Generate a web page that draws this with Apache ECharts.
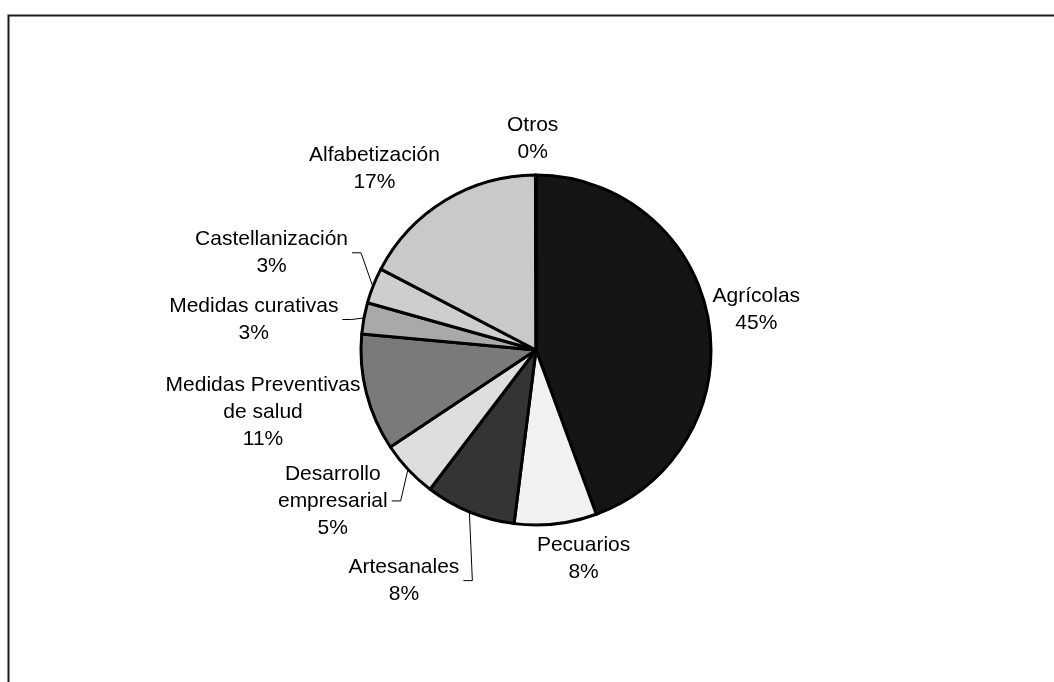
<!DOCTYPE html>
<html>
<head>
<meta charset="utf-8">
<script src="https://cdn.jsdelivr.net/npm/echarts@6/dist/echarts.min.js"></script>
<style>
  html, body { margin: 0; padding: 0; background: #ffffff; }
  #chart { width: 1054px; height: 682px; }
</style>
</head>
<body>
<div id="chart"></div>
<script>
// ---- data (clockwise from 12 o'clock) ----
const categories = ['Agrícolas', 'Pecuarios', 'Artesanales', 'Desarrollo empresarial',
  'Medidas Preventivas de salud', 'Medidas curativas', 'Castellanización', 'Alfabetización', 'Otros'];
const labelTexts = ['Agrícolas', 'Pecuarios', 'Artesanales', 'Desarrollo\nempresarial',
  'Medidas Preventivas\nde salud', 'Medidas curativas', 'Castellanización', 'Alfabetización', 'Otros'];
const values = [44.4, 7.6, 8.35, 5.3, 10.8, 2.9, 3.3, 17.3, 0.05];

// ---- styling ----
const fills = ['#151515', '#f1f1f1', '#343434', '#dedede', '#7a7a7a', '#a9a9a9', '#cecece', '#c9c9c9', '#ffffff'];
const hasLeader = [false, false, true, true, false, true, true, false, false];
const nudges = [[0, -4], [22, 3], [-43, 39], [-32, 0], [-4, 8], [-22, 7], [-26, -21], [-34, -4], [-3, -4]];

const CX = 536, CY = 350, R = 175;
const total = values.reduce((a, b) => a + b, 0);
const midAngles = [];
(function () {
  let acc = 0;
  for (let i = 0; i < values.length; i++) {
    midAngles.push(((acc + values[i] / 2) / total) * 2 * Math.PI);
    acc += values[i];
  }
})();

const chart = echarts.init(document.getElementById('chart'), null, { renderer: 'canvas' });

const seriesData = categories.map((name, i) => ({
  name: name,
  value: values[i],
  itemStyle: { color: fills[i] },
  labelLine: { show: hasLeader[i] }
}));

chart.setOption({
  animation: false,
  backgroundColor: '#ffffff',
  graphic: [{
    type: 'rect',
    left: 6, top: 13,
    shape: { width: 1100, height: 720 },
    style: { fill: 'none', stroke: '#1a1a1a', lineWidth: 2 },
    silent: true
  }],
  series: [{
    type: 'pie',
    center: [CX, CY],
    radius: R,
    startAngle: 90,
    clockwise: true,
    avoidLabelOverlap: false,
    percentPrecision: 0,
    itemStyle: { borderColor: '#000000', borderWidth: 3 },
    emphasis: { disabled: true },
    label: {
      show: true,
      position: 'outside',
      color: '#000000',
      fontFamily: '"Liberation Sans", Arial, sans-serif',
      fontSize: 21,
      lineHeight: 27,
      formatter: function (p) { return labelTexts[p.dataIndex] + '\n' + p.percent + '%'; }
    },
    labelLine: { show: true, length: 10, length2: 10, smooth: false,
      lineStyle: { color: '#000000', width: 1 } },
    labelLayout: function (params) {
      const i = params.dataIndex;
      const a = midAngles[i];
      const ux = Math.sin(a), uy = -Math.cos(a);
      const w = params.labelRect.width, h = params.labelRect.height;
      const gap = 5;
      const x = CX + ux * (R + gap) + ux * w / 2 + nudges[i][0];
      const y = CY + uy * (R + gap) + uy * h / 2 + nudges[i][1];
      const out = { x: x, y: y, align: 'center', verticalAlign: 'middle' };
      if (hasLeader[i]) {
        const ex = CX + ux * (R + 1), ey = CY + uy * (R + 1);
        const right = x + w / 2;
        out.labelLinePoints = [[ex, ey], [right + 13, y], [right + 4, y]];
      }
      return out;
    },
    data: seriesData
  }]
});
</script>
</body>
</html>
